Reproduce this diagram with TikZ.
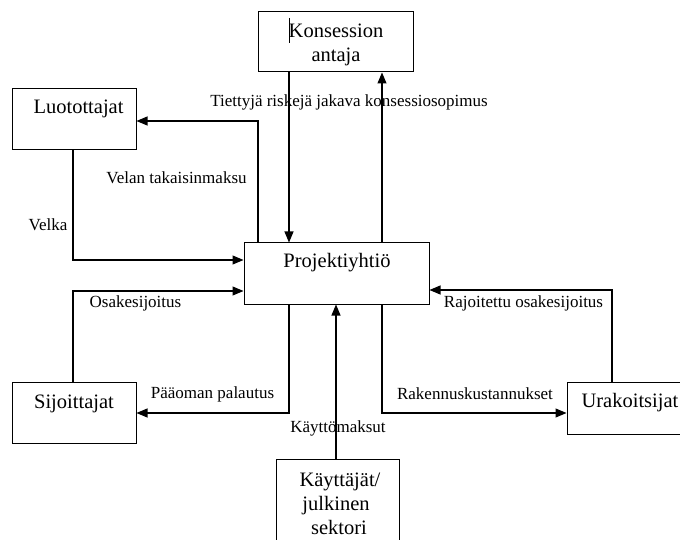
\documentclass[tikz,border=0pt]{standalone}
\usepackage{fontspec}
\setmainfont{Liberation Serif}
\usetikzlibrary{arrows.meta}
\begin{document}
\begin{tikzpicture}[x=1pt,y=-1pt,
  box/.style={draw, line width=1pt, inner sep=0pt},
  boxtext/.style={anchor=base, inner sep=0pt, font=\fontsize{20.5}{24}\selectfont},
  lbl/.style={anchor=base, inner sep=0pt, font=\fontsize{17}{20}\selectfont},
  flow/.style={line width=1.1pt, -{Triangle[length=11pt,width=9pt]}}]
\clip (0,0) rectangle (680,540);
\fill[white] (0,0) rectangle (680,540);

% parties
\node[box, minimum width=155pt, minimum height=60pt] (ka) at (335.5,42) {};
\node[box, minimum width=124pt, minimum height=61pt] (lu) at (74,119.5) {};
\node[box, minimum width=185pt, minimum height=61pt] (pr) at (336.5,273.5) {};
\node[box, minimum width=124pt, minimum height=61pt] (sj) at (74,412.5) {};
\node[box, minimum width=140pt, minimum height=52pt] (ur) at (637,408) {};
\node[box, minimum width=123pt, minimum height=110pt] (kj) at (337.5,514) {};

% party names
\node[boxtext] (kat1) at (336,38) {Konsession};
\node[boxtext] (kat2) at (336,62) {antaja};
\draw[line width=0.8pt] (289,18) -- (289,43);
\node[boxtext] (lut) at (78.5,114) {Luotottajat};
\node[boxtext] (prt) at (337,267) {Projektiyhtiö};
\node[boxtext] (sjt) at (74,408) {Sijoittajat};
\node[boxtext] (urt) at (630,407) {Urakoitsijat};
\node[boxtext] (kjt1) at (340,486) {Käyttäjät/};
\node[boxtext] (kjt2) at (336,510) {julkinen};
\node[boxtext] (kjt3) at (339,534) {sektori};

% money and contract flows
\draw[flow] (ka.south -| 289,0) -- (pr.north -| 289,0);
\draw[flow] (pr.north -| 382,0) -- (ka.south -| 382,0);
\draw[flow] (pr.north -| 258,0) |- (lu.east |- 0,121);
\draw[flow] (lu.south -| 73,0) |- (pr.west |- 0,260);
\draw[flow] (sj.north -| 73,0) |- (pr.west |- 0,291);
\draw[flow] (pr.south -| 289,0) |- (sj.east |- 0,413);
\draw[flow] (ur.north -| 612,0) |- (pr.east |- 0,290);
\draw[flow] (pr.south -| 382,0) |- (ur.west |- 0,413);
\draw[flow] (kj.north -| 336,0) -- (pr.south -| 336,0);

% flow labels
\node[lbl] (l1) at (349,107) {Tiettyjä riskejä jakava konsessiosopimus};
\node[lbl] (l2) at (176.5,184) {Velan takaisinmaksu};
\node[lbl] (l3) at (48,230) {Velka};
\node[lbl] (l4) at (135.5,307) {Osakesijoitus};
\node[lbl] (l5) at (212.5,398) {Pääoman palautus};
\node[lbl] (l6) at (523.5,307) {Rajoitettu osakesijoitus};
\node[lbl] (l7) at (475,399) {Rakennuskustannukset};
\node[lbl] (l8) at (338,432) {Käyttömaksut};
\end{tikzpicture}
\end{document}
